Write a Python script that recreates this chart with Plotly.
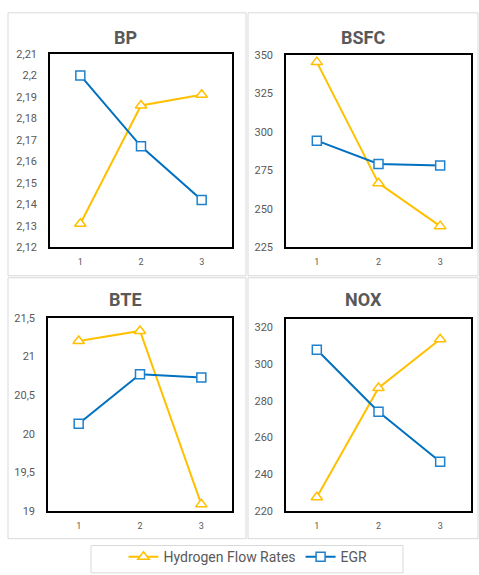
import plotly.graph_objects as go

W, H = 479, 575

levels = [1, 2, 3]
level_labels = ["1", "2", "3"]

bp_h2 = [2.131, 2.186, 2.191]
bp_egr = [2.200, 2.167, 2.142]
bsfc_h2 = [345.3, 266.7, 238.8]
bsfc_egr = [294.3, 279.2, 278.2]
bte_h2 = [21.20, 21.33, 19.09]
bte_egr = [20.13, 20.77, 20.73]
nox_h2 = [227.6, 286.9, 313.3]
nox_egr = [307.6, 274.0, 246.9]

bp_ticks = [2.12, 2.13, 2.14, 2.15, 2.16, 2.17, 2.18, 2.19, 2.20, 2.21]
bp_ticktext = ["2,12", "2,13", "2,14", "2,15", "2,16", "2,17", "2,18", "2,19", "2,2", "2,21"]
bsfc_ticks = [225, 250, 275, 300, 325, 350]
bte_ticks = [19, 19.5, 20, 20.5, 21, 21.5]
bte_ticktext = ["19", "19,5", "20", "20,5", "21", "21,5"]
nox_ticks = [220, 240, 260, 280, 300, 320]

series_names = ["Hydrogen Flow Rates", "EGR"]
YELLOW = "#FFC000"
BLUE = "#0070C0"
GRAY = "#595959"
FONT = "Roboto"

panels = [
    ("BP", bp_h2, bp_egr, [2.12, 2.21], bp_ticks, bp_ticktext, (50, 232, 49, 247), (125, 32)),
    ("BSFC", bsfc_h2, bsfc_egr, [225, 350], bsfc_ticks, [str(v) for v in bsfc_ticks], (286, 471, 50, 247), (363, 32)),
    ("BTE", bte_h2, bte_egr, [19, 21.5], bte_ticks, bte_ticktext, (48, 232, 319, 517), (125, 300)),
    ("NOX", nox_h2, nox_egr, [220, 324.4], nox_ticks, [str(v) for v in nox_ticks], (286, 471, 320, 517), (363, 300)),
]

def px(x):
    return x / W

def py(y):
    return 1 - y / H

fig = go.Figure()
layout = dict(
    width=W, height=H,
    margin=dict(l=0, r=0, t=0, b=0),
    paper_bgcolor="white", plot_bgcolor="white",
    font=dict(family=FONT, color=GRAY),
    showlegend=True,
    legend=dict(orientation="h", x=px(248), xanchor="center", y=py(564), yanchor="middle",
                font=dict(size=14, color=GRAY, family=FONT), bgcolor="rgba(0,0,0,0)"),
)
annotations = []
shapes = []

for (x0, x1, y0, y1) in [(8, 246, 7, 276), (248, 478, 7, 276), (8, 246, 278, 545), (248, 478, 278, 545)]:
    shapes.append(dict(type="rect", xref="paper", yref="paper", x0=px(x0), x1=px(x1), y0=py(y1), y1=py(y0),
                       line=dict(color="#D9D9D9", width=1), layer="below"))
shapes.append(dict(type="rect", xref="paper", yref="paper", x0=px(91), x1=px(403), y0=py(580), y1=py(552),
                   line=dict(color="#D9D9D9", width=1), layer="below"))

for i, (title, h2, egr, yr, tv, tt, box, tpos) in enumerate(panels):
    n = "" if i == 0 else str(i + 1)
    xa, ya = "x" + n, "y" + n
    x0, x1, y0, y1 = box
    layout["xaxis" + n] = dict(domain=[px(x0), px(x1)], range=[0.5, 3.5], tickvals=levels, ticktext=level_labels,
                               showgrid=False, zeroline=False, showline=True, mirror=True, linecolor="black",
                               linewidth=1.5, ticks="", tickfont=dict(size=9, color=GRAY, family=FONT),
                               ticklabelstandoff=5, anchor=ya, fixedrange=True)
    layout["yaxis" + n] = dict(domain=[py(y1), py(y0)], range=yr, tickvals=tv, ticktext=tt,
                               showgrid=False, zeroline=False, showline=True, mirror=True, linecolor="black",
                               linewidth=1.5, ticks="", tickfont=dict(size=11, color=GRAY, family=FONT),
                               ticklabelstandoff=9, anchor=xa, fixedrange=True)
    fig.add_trace(go.Scatter(x=levels, y=h2, mode="lines+markers", name=series_names[0],
                             line=dict(color=YELLOW, width=2),
                             marker=dict(symbol="triangle-up", size=10, color="white",
                                         line=dict(color=YELLOW, width=1.5)),
                             xaxis=xa, yaxis=ya, showlegend=(i == 0), legendrank=1))
    fig.add_trace(go.Scatter(x=levels, y=egr, mode="lines+markers", name=series_names[1],
                             line=dict(color=BLUE, width=2),
                             marker=dict(symbol="square", size=9, color="white",
                                         line=dict(color="#1F80CC", width=1.5)),
                             xaxis=xa, yaxis=ya, showlegend=(i == 0), legendrank=2))
    annotations.append(dict(text="<b>%s</b>" % title, x=px(tpos[0]), y=py(tpos[1]), xref="paper", yref="paper",
                            showarrow=False, xanchor="center", yanchor="middle",
                            font=dict(size=18, color=GRAY, family=FONT)))

layout["annotations"] = annotations
layout["shapes"] = shapes
fig.update_layout(**layout)
fig.write_html("out.html", config={"displayModeBar": False},
               post_script="document.body.style.margin='0';document.body.style.overflow='hidden';")
